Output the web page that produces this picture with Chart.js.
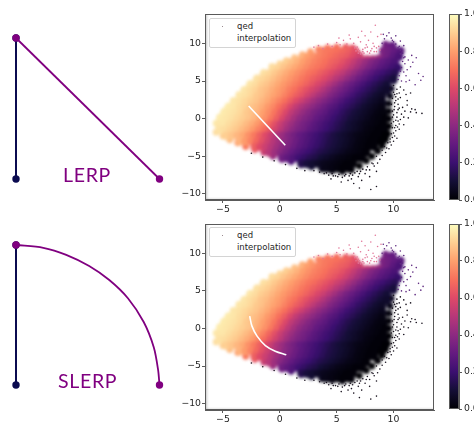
<!DOCTYPE html>
<html lang="en">
<head>
<meta charset="UTF-8" />
<title>LERP vs SLERP</title>
<script src="https://cdn.jsdelivr.net/npm/chart.js"></script>
<style>
  html, body { margin: 0; padding: 0; background: #fff; overflow: hidden; width: 474px; height: 422px; }
  #page { position: relative; width: 474px; height: 422px; overflow: hidden; filter: blur(0.35px); }
  .box { position: absolute; }
  .word { position: absolute; font-family: Lato, sans-serif; font-size: 19.5px; letter-spacing: 0.7px; color: #800080; line-height: 1; }
  .legend { position: absolute; left: 209px; width: 85px; height: 28px; background: #fff; border: 1px solid #d4d4d4; border-radius: 2px;
            font-family: "DejaVu Sans", sans-serif; font-size: 8.5px; color: #262626; }
  .legend span { position: absolute; left: 27px; }
  .legend i { position: absolute; left: 12px; top: 7px; width: 1px; height: 1px; background: #9a8a90; }
</style>
</head>
<body>
<div id="page">
  <div class="box" style="left:0;top:20px;width:180px;height:180px"><canvas id="lerp"></canvas></div>
  <div class="box" style="left:0;top:230px;width:180px;height:180px"><canvas id="slerp"></canvas></div>
  <div class="word" style="left:63px;top:165px">LERP</div>
  <div class="word" style="left:58px;top:371px">SLERP</div>

  <div class="box" style="left:175px;top:0;width:265px;height:216px"><canvas id="scatterTop"></canvas></div>
  <div class="box" style="left:175px;top:210px;width:265px;height:212px"><canvas id="scatterBottom"></canvas></div>
  <div class="legend" style="top:18px"><i></i><span style="top:2px">qed</span><span style="top:14px">interpolation</span></div>
  <div class="legend" style="top:227px"><i></i><span style="top:2px">qed</span><span style="top:14px">interpolation</span></div>

  <div class="box" style="left:440px;top:0;width:60px;height:216px"><canvas id="barTop"></canvas></div>
  <div class="box" style="left:440px;top:210px;width:60px;height:212px"><canvas id="barBottom"></canvas></div>
</div>

<script>
  // left diagrams, unit coordinates
  const baseX = [0, 0];
  const baseY = [0, 1];
  const lerpX = [0, 1];
  const lerpY = [1, 0];
  const slerpX = [0, 0.19, 0.35, 0.51, 0.65, 0.78, 0.89, 0.96, 0.99, 1];
  const slerpY = [1, 0.98, 0.93, 0.85, 0.75, 0.62, 0.45, 0.27, 0.11, 0];

  // white paths in the latent space
  const pathLerpX = [-2.74, 0.48];
  const pathLerpY = [1.69, -3.54];
  const pathSlerpX = [-2.65, -2.45, -2.0, -1.27, -0.4, 0.57];
  const pathSlerpY = [1.64, 0.31, -1.02, -2.27, -3.02, -3.51];

  const xTicks = [-5, 0, 5, 10];
  const yTicks = [-10, -5, 0, 5, 10];
  const barTicks = [0, 0.2, 0.4, 0.6, 0.8, 1];

  const rowY = [9.6, 9, 8.25, 7.5, 6.75, 6, 5.25, 4.5, 3.75, 3, 2.25, 1.5, 0.75, 0, -0.75, -1.5, -2.25, -3, -3.75, -4.5, -5.25, -6, -6.6];
  const rowStart = [9.4, 3.6, 2, 0.6, -0.6, -1.4, -2, -2.6, -3.1, -3.5, -4, -4.5, -4.9, -5.2, -5.4, -5.3, -4.7, -3.5, -2.2, -0.9, 0.2, 1.9, 4.1];
  const qedRows = [
    [33,30],
    [74,72,71,70,68,66,62,null,null,null,null,36,33,30,27],
    [84,80,77,74,72,70,68,66,64,60,56,null,null,null,null,33,28,24],
    [90,87,84,80,77,74,72,70,67,65,62,58,53,48,43,38,34,30,27,24],
    [93,91,88,85,82,79,76,73,71,69,66,63,60,56,51,46,41,36,32,28,25,22,19],
    [94,92,89,86,83,80,77,74,71,69,66,63,60,56,52,47,42,37,32,28,24,21,18,15],
    [94,92,90,87,84,81,78,75,72,69,66,63,60,56,51,47,42,37,32,28,24,20,17,14,11],
    [95,93,90,88,85,82,79,76,73,70,67,63,59,55,50,45,40,35,31,27,23,19,16,13,10],
    [95,93,91,88,86,83,80,77,73,70,66,62,58,54,49,44,39,35,31,27,23,19,16,13,10,8],
    [95,94,92,89,87,84,81,78,74,70,66,62,57,52,47,43,38,34,30,26,22,18,15,12,9,7],
    [95,94,92,90,88,85,82,78,74,70,65,60,55,50,45,41,37,33,29,25,21,18,15,12,9,7,5],
    [96,95,93,91,88,86,83,79,75,70,65,59,53,48,44,40,36,32,28,25,21,18,15,12,9,7,5,3],
    [96,95,94,92,89,87,84,80,76,71,65,59,52,47,42,38,34,31,28,24,21,17,14,11,9,7,5,3,2],
    [96,95,94,92,90,88,85,81,77,72,66,59,52,46,41,37,34,30,27,24,20,17,14,11,9,7,5,3,2,1],
    [95,95,93,91,89,86,83,79,74,68,62,55,49,44,39,35,32,28,25,22,19,16,13,10,8,6,4,3,2,1],
    [94,93,91,89,86,83,79,74,69,63,57,51,45,40,36,33,29,26,23,20,17,14,11,9,7,5,3,2,1,1],
    [90,88,85,82,77,72,66,60,54,48,43,38,34,30,27,24,21,18,15,12,10,8,6,4,3,2,1,1,0],
    [84,79,74,68,62,56,50,45,40,36,32,28,25,22,19,16,13,11,9,7,5,3,2,1,1,0],
    [66,60,55,50,45,40,36,32,28,25,22,19,16,13,11,9,7,5,3,2,1,1],
    [50,44,39,34,30,26,23,20,17,14,12,10,8,6,4,3,2,1],
    [33,29,25,21,18,15,13,10,8,6,4,3,2,1,1],
    [14,11,9,7,5,4,3,2,1,1],
    [4,3,2,1,1]
  ];

  // smaller cells along the outline of the dense part: x, y, qed percent
  const edgeCells = [
    [-5.6,-0.6,96],[-5.3,0.2,96],[-4.9,1,96],[-4.5,1.7,96],[-4.1,2.4,95],[-3.6,3.2,95],[-3.1,3.9,95],[-2.6,4.7,95],[-2,5.4,94],[-1.4,6.1,94],[-0.7,6.9,93],
    [0,7.3,92],[0.6,7.7,90],[1.3,8.1,87],[2,8.5,84],[2.7,8.9,80],[3.4,9.2,75],[4.2,9.4,71],[5,9.5,69],[5.8,9.5,65],[6.4,9.4,62],
    [-5.6,-1.8,93],[-5,-2.3,90],[-4.4,-2.8,86],[-3.7,-3.2,80],[-3,-3.7,72],[-2.2,-4.1,62],[-1.4,-4.5,54],[-0.6,-5,42],[0.2,-5.4,32],[1,-5.7,24],[1.9,-6.1,14],
    [2.8,-6.4,9],[3.7,-6.7,5],[4.6,-6.9,3],[5.5,-7,2],[6.3,-6.8,1],[7,-6.3,0],[7.6,-5.6,0],[8.1,-5,0],[8.6,-4.3,0],[9,-3.6,0],[9.3,-2.8,0],[9.5,-2,0],[9.6,-1,0],
    [9.6,0,0],[9.6,1,1],[9.6,2,2],[9.7,3,4],[9.8,4,6],[10,5,9],[10.2,6,12],[10.3,7,17],[10.3,8,24],[10.2,9,28],[9.9,9.8,30],[9.3,9.9,33],
    [7.2,8,60],[7.7,8,55],[8.2,8,50],[8.7,8.1,44],[9.1,8.3,38],[7,8.5,62]
  ];

  // loose points around the edge of the cloud
  const loosePink = [[3,9.5],[3.4,9.7],[3.8,9.3],[4.2,9.9],[4.6,9.6],[5,10.1],[5.3,9.8],[5.6,10.4],[5.9,9.9],[6.2,10.6],[6.5,10],[6.8,9.5],[6.9,10.8],[7.1,10.2],[7.3,9.2],[7.5,11],[7.6,9.8],[7.8,10.4],[8,9],[8,11.5],[8.2,10],[8.4,12.4],[8.5,9.4],[8.6,10.9],[8.8,9.1],[8.9,11.2],[7,9],[7.4,8.7],[7.9,8.7],[8.3,8.9],[6.9,8.7],[6.1,11.1],[5.2,10.7],[7.2,11.6],[7.7,9.5],[6.6,9.4],
    [7.3,8.9],[7.7,8.9],[8.1,9.3],[8.5,8.9],[6.7,9],[6.9,9.2],[8.7,9.6],[7.1,8.6],[7.5,9.4],[8.3,9.6]];
  const loosePurple = [[9,10],[9.2,10.6],[9.4,11],[9.6,11.4],[9.8,10.7],[10,10.2],[10.2,9.9],[10.4,9.4],[10.6,9.1],[10.8,8.7],[11,8.2],[11,7.3],[11.2,6.5],[10.9,6.2],[11.3,7.8],[11.5,6.9],[11.7,7.5],[12.2,6],[12.6,5.6],[12.4,5.1],[11.9,4.5],[11.4,5.1],[11.1,4.9],[10.7,5],[11.1,5.7],[10.9,9.7],[10.6,10.3],[12,8.1],[11.6,8.4],[10.2,11],[9.1,11.2],
    [10.9,8.1],[10.8,7.6],[10.7,6.8],[10.6,6.3],[10.5,5.7],[10.4,5.2],[10.6,8.6],[10.5,9.6],[9.9,10.4]];
  const looseRight = [[9.7,4],[10,4.4],[10.3,3.9],[10.6,4.2],[10.1,3.2],[10.5,3.4],[10.9,3.8],[11.1,3.2],[9.9,2.7],[10.2,2.4],[10.6,2.8],[11.2,2.4],[11.5,3.4],[9.8,1.9],[10.1,1.6],[10.4,1.9],[10.8,1.5],[11.2,1.8],[11.6,1.3],[9.9,1],[10.3,0.8],[10.7,0.6],[11,1],[11.5,0.9],[12,0.8],[12.5,0.7],[11.9,1.2],[9.9,0.2],[10.2,-0.2],[10.6,-0.1],[10.9,0.2],[11.3,0.1],[9.8,-0.6],[10.2,-0.9],[10.5,-0.7],[10.9,-0.8],[9.9,-1.2],[10.2,-1.6],[10.5,-1.4],[9.8,-2],[10.1,-2.3],[10.3,-2.6],[9.7,-2.7],[10,-3],[9.5,-3.2],[9.8,-3.5],[9.2,-3.7],[9.6,-4],[9,-4.2],[9.3,-4.5],[8.7,-4.4],[9,-4.9],[8.5,-5],[8.8,-5.4],
    [10,3.5],[10.1,2.1],[10.05,1.2],[10,0.5],[10,-0.4],[10.1,-1.2],[10,-1.9],[10.3,0.2],[10.4,1.2],[10.2,2.9],[10.3,3.3],[10.4,2.6],[10.5,1.4],[10.4,-0.3],[10.35,-1.1],[9.9,-2.5],[9.7,-3.1],[9.4,-3.9]];
  const looseBottom = [[3,-6.9],[3.5,-7.1],[3.9,-7.3],[4.3,-7.5],[4.6,-7.3],[4.9,-7.6],[5.2,-7.4],[5.5,-7.8],[5.8,-7.4],[6.1,-7.6],[6.3,-8],[6.6,-7.2],[6.9,-7.7],[7.1,-7],[7.3,-6.7],[7.5,-7.3],[7.7,-6.4],[7.9,-6.8],[8.1,-5.9],[8.3,-6.3],[8.6,-5.9],[8.5,-7],[6,-8.2],[6.5,-8.6],[7.9,-7.7],[7.2,-8.2],[8,-9.4],[8.5,-9],[5.4,-8.4],[4.5,-8],[7,-9.2],[1.5,-6.6],[2.2,-6.9],[0.5,-6.1],[-0.5,-5.6],[-1.5,-5.1],[-2.5,-4.6],
    [4.1,-7.2],[4.7,-7.6],[6.4,-7.5],[7,-7.3],[5.7,-7.6],[8.2,-6],[7.6,-6.8],[6.8,-7],[6.2,-7.3],[5.1,-7.7]];

  const magma = ['#000004', '#140e36', '#3b0f70', '#641a80', '#8c2981', '#b73779', '#de4968', '#f7705c', '#fe9f6d', '#fecf92', '#fcfdbf'];

  function qedColor(q) {
    const p = Math.min(q, 0.999) * 10;
    const i = Math.floor(p);
    const a = parseInt(magma[i].slice(1), 16), b = parseInt(magma[i + 1].slice(1), 16);
    const mix = s => Math.round(((a >> s) & 255) * (1 - p + i) + ((b >> s) & 255) * (p - i));
    return `rgb(${mix(16)},${mix(8)},${mix(0)})`;
  }

  const cloudPoints = [];
  const cloudColors = [];
  const cloudSizes = [];
  edgeCells.forEach(c => {
    cloudPoints.push({ x: c[0], y: c[1] });
    cloudColors.push(qedColor(c[2] / 100));
    cloudSizes.push(3.4);
  });
  qedRows.forEach((row, r) => {
    row.forEach((q, c) => {
      if (q === null) return;
      cloudPoints.push({ x: rowStart[r] + c * 0.5, y: rowY[r] });
      cloudColors.push(qedColor(q / 100));
      cloudSizes.push(4.4);
    });
  });

  const zip = (xs, ys) => xs.map((x, i) => ({ x: x, y: ys[i] }));
  const fromPairs = list => list.map(p => ({ x: p[0], y: p[1] }));
  const spine = '#5a5a5a';
  const textColor = '#262626';
  const tickFont = { family: 'DejaVu Sans', size: 9.3 };

  // matplotlib style frame on all four sides
  const frame = {
    id: 'frame',
    afterDraw(chart) {
      const a = chart.chartArea, ctx = chart.ctx;
      ctx.save();
      ctx.strokeStyle = spine;
      ctx.lineWidth = 1;
      ctx.strokeRect(a.left + 0.5, a.top + 0.5, a.right - a.left - 1, a.bottom - a.top - 1);
      ctx.restore();
    }
  };

  // soften the coarse cloud cells so they read as a dense scatter
  const soften = {
    id: 'soften',
    afterDatasetDraw(chart, args) {
      if (args.index !== 0) return;
      const a = chart.chartArea, ctx = chart.ctx;
      const tmp = document.createElement('canvas');
      tmp.width = chart.canvas.width;
      tmp.height = chart.canvas.height;
      tmp.getContext('2d').drawImage(chart.canvas, 0, 0);
      ctx.save();
      ctx.beginPath();
      ctx.rect(a.left, a.top, a.right - a.left, a.bottom - a.top);
      ctx.clip();
      ctx.clearRect(a.left, a.top, a.right - a.left, a.bottom - a.top);
      ctx.filter = 'blur(1.6px)';
      ctx.drawImage(tmp, 0, 0);
      ctx.restore();
    }
  };

  function diagram(id, xs, ys, padTop, padBottom) {
    new Chart(document.getElementById(id), {
      type: 'scatter',
      data: {
        datasets: [
          { data: zip(xs, ys), order: 1, clip: false, showLine: true, tension: xs.length > 2 ? 0.3 : 0, borderColor: '#800080', backgroundColor: '#800080', borderWidth: 1.8, pointRadius: 0 },
          { data: [{ x: xs[0], y: ys[0] }, { x: xs[xs.length - 1], y: ys[ys.length - 1] }], order: 0, clip: false, borderColor: '#800080', backgroundColor: '#800080', pointRadius: 3.7, pointBorderWidth: 0 },
          { data: zip(baseX, baseY), order: 2, clip: false, showLine: true, borderColor: '#0b0b50', backgroundColor: '#0b0b50', borderWidth: 2, pointRadius: 3.7, pointBorderWidth: 0 }
        ]
      },
      options: {
        responsive: true, maintainAspectRatio: false, animation: false,
        layout: { padding: { left: 16, right: 20.5, top: padTop, bottom: padBottom } },
        plugins: { legend: { display: false }, tooltip: { enabled: false } },
        scales: {
          x: { display: false, min: 0, max: 1 },
          y: { display: false, min: 0, max: 1 }
        }
      }
    });
  }

  function scatterPanel(id, pathX, pathY, padTop, yMin, yMax, axisHeight) {
    const dot = (list, color) => ({ data: fromPairs(list), order: 5, backgroundColor: color, pointRadius: 0.8, pointBorderWidth: 0 });
    new Chart(document.getElementById(id), {
      type: 'scatter',
      data: {
        datasets: [
          { data: cloudPoints, order: 10, pointBackgroundColor: cloudColors, pointRadius: cloudSizes, pointBorderWidth: 0, pointStyle: 'circle' },
          dot(loosePink, '#e2789a'),
          dot(loosePurple, '#5f2a80'),
          dot(looseRight, '#1a1420'),
          dot(looseBottom, '#1a1420'),
          { data: zip(pathX, pathY), order: 1, showLine: true, tension: pathX.length > 2 ? 0.3 : 0, borderColor: '#fff', borderWidth: 1.6, pointRadius: 0 }
        ]
      },
      options: {
        responsive: true, maintainAspectRatio: false, animation: false,
        layout: { padding: { left: 0, right: 6, top: padTop, bottom: 0 } },
        plugins: { legend: { display: false }, tooltip: { enabled: false } },
        scales: {
          x: {
            type: 'linear', min: -6.58, max: 13.56,
            afterBuildTicks(s) { s.ticks = xTicks.map(v => ({ value: v })); },
            afterFit(s) { s.height = axisHeight; },
            grid: { drawOnChartArea: false, tickLength: 3, tickColor: spine },
            border: { color: spine },
            ticks: { color: textColor, font: tickFont, padding: 1, maxRotation: 0, callback: v => String(v).replace('-', '\u2212') }
          },
          y: {
            type: 'linear', min: yMin, max: yMax,
            afterBuildTicks(s) { s.ticks = yTicks.map(v => ({ value: v })); },
            afterFit(s) { s.width = 30; },
            grid: { drawOnChartArea: false, tickLength: 3, tickColor: spine },
            border: { color: spine },
            ticks: { color: textColor, font: tickFont, padding: 1, callback: v => String(v).replace('-', '\u2212') }
          }
        }
      },
      plugins: [frame, soften]
    });
  }

  function colorBar(id, padTop, axisBottom) {
    new Chart(document.getElementById(id), {
      type: 'bar',
      data: {
        labels: ['qed'],
        datasets: [{
          data: [[0, 1]],
          barPercentage: 1, categoryPercentage: 1, borderSkipped: false,
          backgroundColor(c) {
            const a = c.chart.chartArea;
            if (!a) return '#000';
            const g = c.chart.ctx.createLinearGradient(0, a.bottom, 0, a.top);
            magma.forEach((m, i) => g.addColorStop(i / (magma.length - 1), m));
            return g;
          }
        }]
      },
      options: {
        responsive: true, maintainAspectRatio: false, animation: false,
        layout: { padding: { left: 9, right: 0, top: padTop, bottom: axisBottom } },
        plugins: { legend: { display: false }, tooltip: { enabled: false } },
        scales: {
          x: { display: false },
          y: {
            position: 'right', min: 0, max: 1,
            afterBuildTicks(s) { s.ticks = barTicks.map(v => ({ value: v })); },
            afterFit(s) { s.width = 41; },
            grid: { drawOnChartArea: false, tickLength: 3, tickColor: spine },
            border: { color: spine },
            ticks: { color: textColor, font: tickFont, padding: 2, callback: v => v.toFixed(1) }
          }
        }
      },
      plugins: [frame]
    });
  }

  diagram('lerp', lerpX, lerpY, 18, 21);
  diagram('slerp', slerpX, slerpY, 15, 25);
  scatterPanel('scatterTop', pathLerpX, pathLerpY, 14, -10.8, 13.9, 16);
  scatterPanel('scatterBottom', pathSlerpX, pathSlerpY, 14, -10.85, 13.9, 12);
  colorBar('barTop', 14, 16);
  colorBar('barBottom', 14, 13);
</script>
</body>
</html>
